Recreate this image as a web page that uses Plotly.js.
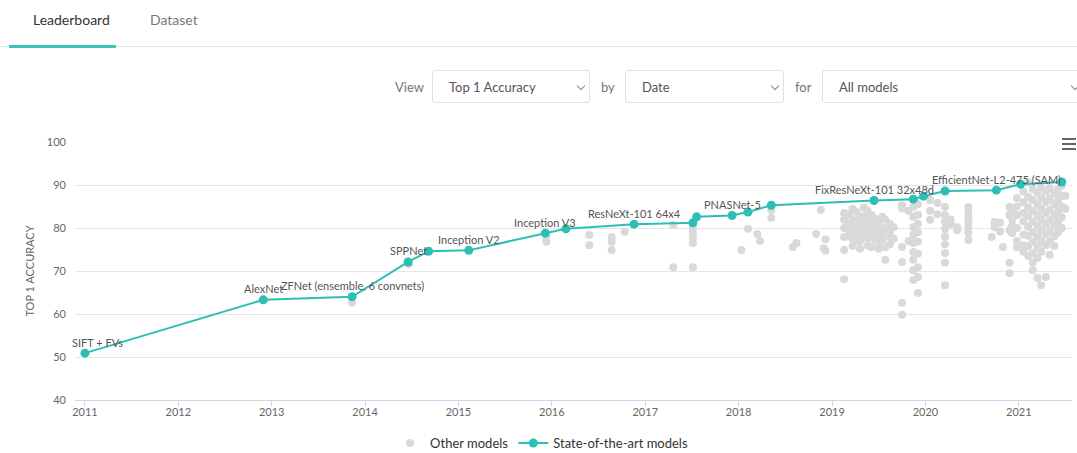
<!DOCTYPE html>
<html>
<head>
<meta charset="utf-8">
<script src="https://cdn.plot.ly/plotly-3.0.1.min.js"></script>
<style>
  html, body { margin:0; padding:0; width:1077px; height:453px; overflow:hidden; background:#fff; font-family: Lato, "Open Sans", sans-serif; }
  .abs { position:absolute; }
  .tab { font-size:14px; top:11px; }
  .sel { border:1px solid #e0e0e0; border-radius:3px; top:70px; height:33px; box-sizing:border-box; }
  .sel span { position:absolute; left:16px; top:8px; font-size:13px; color:#555; }
  .chev { position:absolute; top:12px; width:5px; height:5px; border-right:1px solid #888; border-bottom:1px solid #888; transform:rotate(45deg); }
  .lbl { top:79px; font-size:13px; color:#777; }
  .hb { left:1062px; width:14px; height:2px; background:#666; }
  #chart { position:absolute; left:0; top:0; width:1077px; height:453px; }
</style>
</head>
<body>
<div class="abs tab" style="left:33px;color:#333;">Leaderboard</div>
<div class="abs tab" style="left:150px;color:#777;">Dataset</div>
<div class="abs" style="left:0;top:46px;width:1077px;height:1px;background:#e8e8e8;"></div>
<div class="abs" style="left:9px;top:45px;width:107px;height:3px;background:#3cc4bb;"></div>

<div class="abs lbl" style="left:395px;">View</div>
<div class="abs sel" style="left:432px;width:158px;"><span>Top 1 Accuracy</span><div class="chev" style="left:145px;"></div></div>
<div class="abs lbl" style="left:601px;">by</div>
<div class="abs sel" style="left:625px;width:159px;"><span>Date</span><div class="chev" style="left:146px;"></div></div>
<div class="abs lbl" style="left:795px;">for</div>
<div class="abs sel" style="left:822px;width:270px;"><span>All models</span><div class="chev" style="left:249px;"></div></div>

<div id="chart"></div>
<div class="abs hb" style="top:138px;"></div>
<div class="abs hb" style="top:143px;"></div>
<div class="abs hb" style="top:148px;"></div>

<script>
// ---- data ----
const yearTicks = [2011, 2012, 2013, 2014, 2015, 2016, 2017, 2018, 2019, 2020, 2021];

const sotaYear = [2011.0, 2012.91, 2013.86, 2014.46, 2014.68, 2015.11, 2015.93, 2016.15, 2016.88, 2017.51, 2017.55,
                  2017.93, 2018.10, 2018.35, 2019.45, 2019.87, 2019.98, 2020.21, 2020.76, 2021.02, 2021.46];
const sotaAcc  = [50.9, 63.3, 64.0, 72.1, 74.6, 74.8, 78.8, 79.8, 80.9, 81.2, 82.6,
                  82.9, 83.7, 85.3, 86.4, 86.7, 87.4, 88.6, 88.8, 90.2, 90.7];
const sotaName = ["SIFT + FVs", "AlexNet", "ZFNet (ensemble, 6 convnets)", "SPPNet", "", "Inception V2", "Inception V3", "", "ResNeXt-101 64x4", "", "",
                  "PNASNet-5", "", "", "FixResNeXt-101 32x48d", "", "", "", "EfficientNet-L2-475 (SAM)", "", ""];

// other models: one year per column, with the accuracies stacked at that date
const otherColYear = [2013.86, 2014.47, 2015.94, 2016.40, 2016.64, 2016.78, 2017.30, 2017.51, 2018.03, 2018.10, 2018.20, 2018.23,
  2018.35, 2018.58, 2018.62, 2018.83, 2018.88, 2018.91, 2018.93, 2019.13, 2019.18, 2019.22, 2019.26, 2019.30, 2019.34,
  2019.38, 2019.42, 2019.46, 2019.50, 2019.54, 2019.57, 2019.62, 2019.66, 2019.75, 2019.82, 2019.87, 2019.92, 2020.05,
  2020.13, 2020.21, 2020.27, 2020.34, 2020.46, 2020.71, 2020.74, 2020.80, 2020.83, 2020.90, 2020.93, 2020.98, 2021.05,
  2021.10, 2021.15, 2021.20, 2021.24, 2021.29, 2021.33, 2021.38, 2021.42, 2021.46, 2021.50];
const otherColAcc = [
  [62.6], [71.6], [77.9, 76.8], [78.4, 76.0], [77.9, 76.8, 74.9], [79.1], [80.7, 70.9], [80.0, 79.0, 77.9, 76.5, 70.9],
  [74.9], [79.8], [78.6], [77.0], [84.2, 82.4], [75.6], [76.5], [78.6], [84.2], [75.3], [77.4, 74.7],
  [83.5, 81.9, 80.0, 77.9, 74.9, 68.1],
  [83.2, 81.0, 79.6, 78.0],
  [84.5, 82.0, 80.5, 79.2, 77.5, 75.8],
  [83.8, 81.5, 80.0, 78.8, 76.8],
  [82.8, 80.8, 79.5, 78.2, 77.0, 75.2],
  [84.7, 82.6, 81.2, 79.9, 78.5],
  [84.0, 81.8, 80.4, 79.0, 77.6, 76.0],
  [83.0, 80.9, 79.6, 78.3, 75.5],
  [82.2, 80.2, 78.9, 77.2],
  [81.5, 79.5, 78.1, 76.6, 75.2],
  [82.6, 80.0, 78.7, 77.3],
  [81.9, 79.8, 75.6, 72.6],
  [81.0, 79.2, 78.0, 76.2],
  [80.2, 77.5],
  [85.3, 84.6, 75.6, 72.1, 62.6, 59.8],
  [84.0, 77.0],
  [84.9, 82.6, 80.2, 78.4, 76.5, 74.4, 72.6, 70.2, 67.9],
  [85.5, 83.0, 81.0, 79.0, 76.8, 74.0, 70.9, 68.6, 64.9],
  [86.5, 84.0, 81.9],
  [85.8, 83.2],
  [84.9, 83.0, 81.5, 79.8, 78.0, 76.2, 74.2, 71.9, 66.7],
  [82.0, 80.8],
  [80.2, 79.5],
  [84.9, 83.6, 82.6, 81.4, 80.2, 78.9, 77.2],
  [77.9],
  [80.2, 81.4],
  [81.2, 79.2],
  [75.6],
  [84.9, 83.0, 79.5, 71.9, 69.5],
  [84.0, 82.0, 80.5, 78.8],
  [87.0, 85.0, 83.0, 80.0, 77.0, 75.5],
  [88.5, 86.0, 83.5, 81.5, 78.5, 76.0, 74.5],
  [90.5, 87.2, 84.8, 82.8, 80.3, 78.2, 75.8, 73.5],
  [89.0, 86.5, 84.0, 81.5, 79.0, 76.8, 74.2, 72.0, 70.2],
  [88.2, 85.5, 83.0, 80.5, 78.0, 75.5, 73.0, 68.4],
  [89.5, 87.0, 84.5, 82.0, 79.5, 77.0, 74.5, 66.7],
  [88.5, 86.0, 83.5, 81.0, 78.5, 76.0, 68.6],
  [89.3, 86.8, 84.2, 81.8, 79.3, 76.8, 73.8],
  [88.0, 85.5, 83.0, 80.5, 78.0, 75.8],
  [89.0, 86.5, 84.0, 81.5, 79.0],
  [89.8, 87.5, 85.0, 82.5, 80.0],
  [87.5, 84.5]
];

// ---- build traces ----
const otherX = [], otherY = [];
otherColYear.forEach((yr, i) => otherColAcc[i].forEach(v => { otherX.push(yr); otherY.push(v); }));

const teal = '#2bbfb5';
const font = 'Lato, "Open Sans", sans-serif';

const traces = [
  { x: otherX, y: otherY, type: 'scatter', mode: 'markers', name: 'Other models',
    marker: { color: 'rgb(217,217,217)', size: 8 }, hoverinfo: 'skip' },
  { x: sotaYear, y: sotaAcc, type: 'scatter', mode: 'lines+markers', name: 'State-of-the-art models',
    line: { color: teal, width: 2 }, marker: { color: teal, size: 9 }, text: sotaName }
];

const labelShift = { 0: 13 };
const annotations = [];
sotaName.forEach((n, i) => {
  if (!n) return;
  annotations.push({ x: sotaYear[i], y: sotaAcc[i], text: n, showarrow: false, xref: 'x', yref: 'y',
    yshift: 11, xshift: labelShift[i] || 0, font: { family: font, size: 11, color: '#555' } });
});

const layout = {
  width: 1077, height: 453,
  margin: { l: 75, r: 5, t: 142, b: 53, autoexpand: false },
  paper_bgcolor: 'rgba(0,0,0,0)', plot_bgcolor: 'rgba(0,0,0,0)',
  font: { family: font, size: 11, color: '#666' },
  showlegend: true,
  legend: { orientation: 'h', x: 0.468, xanchor: 'center', yref: 'container', y: 0.022, yanchor: 'middle',
            itemwidth: 30, tracegroupgap: 0,
            font: { family: font, size: 13, color: '#333' } },
  xaxis: { range: [2010.893, 2021.57], tickvals: yearTicks, ticktext: yearTicks.map(String),
           showgrid: false, zeroline: false, showline: true, linecolor: '#ccd6eb', linewidth: 1,
           ticks: 'outside', ticklen: 5, tickcolor: '#ccd6eb', ticklabelstandoff: -3,
           tickfont: { family: font, size: 11, color: '#666' } },
  yaxis: { range: [40, 100], dtick: 10, showgrid: true, gridcolor: '#e6e6e6', zeroline: false, showline: false,
           ticklabelstandoff: 8, tickfont: { family: font, size: 11, color: '#666' },
           title: { text: 'TOP 1 ACCURACY', standoff: 10, font: { family: font, size: 11, color: '#666' } } },
  annotations: annotations
};

Plotly.newPlot('chart', traces, layout, { displayModeBar: false, staticPlot: true });
</script>
</body>
</html>
